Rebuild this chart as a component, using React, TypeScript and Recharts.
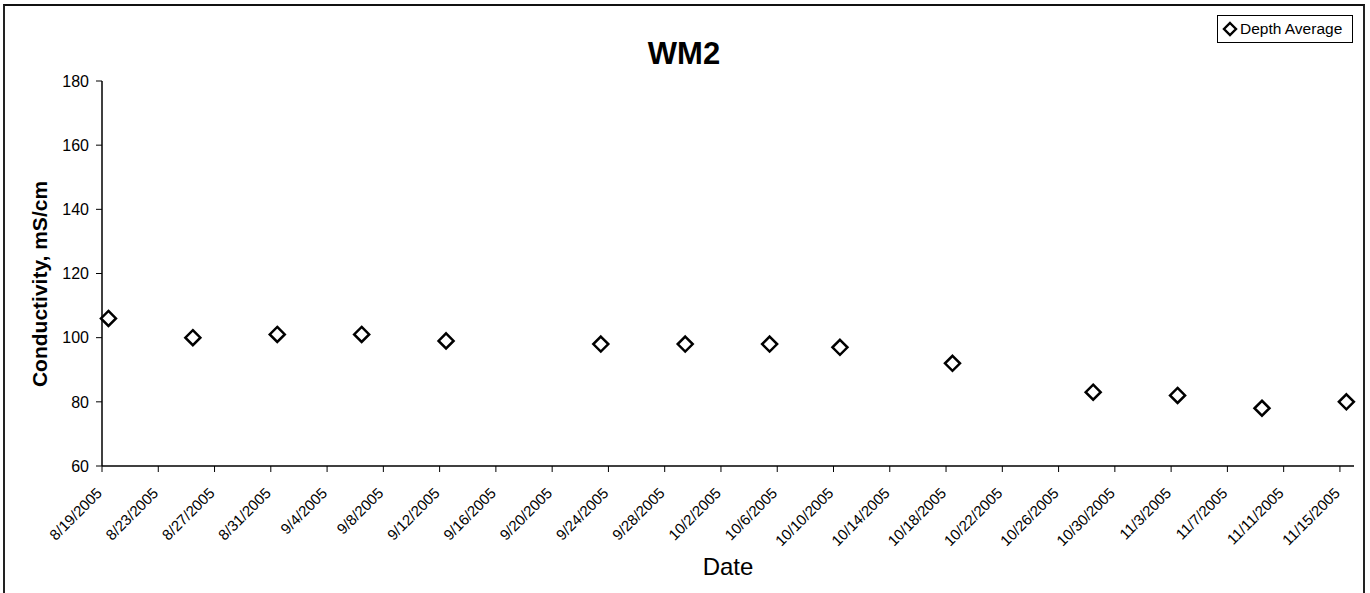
import React from 'react'
import { ScatterChart, Scatter, XAxis, YAxis } from 'recharts'

// WM2 conductivity, depth average per sampling date
const sampleTimes = [
  '2005-08-19T11:00', '2005-08-25T11:00', '2005-08-31T11:00', '2005-09-06T11:00',
  '2005-09-12T11:00', '2005-09-23T11:00', '2005-09-29T11:00', '2005-10-05T11:00',
  '2005-10-10T11:00', '2005-10-18T11:00', '2005-10-28T11:00', '2005-11-03T11:00',
  '2005-11-09T11:00', '2005-11-15T11:00',
]
const depthAverage = [106, 100, 101, 101, 99, 98, 98, 98, 97, 92, 83, 82, 78, 80]

const dateTicks = [
  '8/19/2005', '8/23/2005', '8/27/2005', '8/31/2005', '9/4/2005', '9/8/2005',
  '9/12/2005', '9/16/2005', '9/20/2005', '9/24/2005', '9/28/2005', '10/2/2005',
  '10/6/2005', '10/10/2005', '10/14/2005', '10/18/2005', '10/22/2005', '10/26/2005',
  '10/30/2005', '11/3/2005', '11/7/2005', '11/11/2005', '11/15/2005',
]
const xRange = ['8/19/2005', '11/16/2005']
const yTicks = [60, 80, 100, 120, 140, 160, 180]

const FONT = '"Liberation Sans", Arial, sans-serif'

const parseMDY = (s: string) => {
  const [m, d, y] = s.split('/').map(Number)
  return Date.UTC(y, m - 1, d)
}
const parseIso = (s: string) => new Date(s + ':00Z').getTime()

const points = sampleTimes.map((s, i) => ({ t: parseIso(s), v: depthAverage[i] }))
const tickTimes = dateTicks.map(parseMDY)

// 菱形マーカー
const Diamond = (props: any) => {
  const { cx, cy } = props
  const r = 7.5
  return (
    <polygon
      points={`${cx},${cy - r} ${cx + r},${cy} ${cx},${cy + r} ${cx - r},${cy}`}
      fill="#fff"
      stroke="#000"
      strokeWidth={2.5}
    />
  )
}

const DateTick = (props: any) => {
  const { x, y, index } = props
  const ty = y + 20
  return (
    <text
      x={x + 1}
      y={ty}
      transform={`rotate(-45 ${x + 1} ${ty})`}
      textAnchor="end"
      fontSize={15}
      fontFamily={FONT}
      fill="#000"
    >
      {dateTicks[index]}
    </text>
  )
}

export default function App() {
  return (
    <div style={{ position: 'absolute', left: 0, top: 0, width: 1370, height: 593, overflow: 'hidden', background: '#fff', fontFamily: FONT }}>
      {/* 枠 */}
      <div
        style={{
          position: 'absolute', left: 3, top: 4, width: 1358, height: 640,
          borderLeft: '2px solid #222', borderRight: '2px solid #222', borderTop: '2px solid #111',
        }}
      />
      <ScatterChart width={1370} height={593} margin={{ top: 81, right: 16, bottom: 0, left: 0 }}>
        <XAxis
          type="number"
          dataKey="t"
          domain={[parseMDY(xRange[0]), parseMDY(xRange[1])]}
          ticks={tickTimes}
          interval={0}
          height={127}
          tickSize={6}
          tick={<DateTick />}
          axisLine={{ stroke: '#000', strokeWidth: 1.5 }}
          tickLine={{ stroke: '#000' }}
        />
        <YAxis
          type="number"
          dataKey="v"
          domain={[60, 180]}
          ticks={yTicks}
          interval={0}
          width={102}
          tickSize={6}
          tickMargin={7}
          tick={{ fontSize: 16, fill: '#000', fontFamily: FONT }}
          axisLine={{ stroke: '#000', strokeWidth: 1.5 }}
          tickLine={{ stroke: '#000' }}
        />
        <Scatter data={points} shape={<Diamond />} isAnimationActive={false} />
      </ScatterChart>

      {/* タイトル */}
      <div style={{ position: 'absolute', left: 584, top: 38, width: 200, textAlign: 'center', fontSize: 31, lineHeight: '31px', fontWeight: 'bold' }}>
        WM2
      </div>
      {/* 軸タイトル */}
      <div style={{ position: 'absolute', left: 628, top: 555, width: 200, textAlign: 'center', fontSize: 24, lineHeight: '24px' }}>
        Date
      </div>
      <div
        style={{
          position: 'absolute', left: 40 - 150, top: 284 - 12, width: 300, height: 24,
          textAlign: 'center', fontSize: 21, lineHeight: '24px', fontWeight: 'bold',
          transform: 'rotate(-90deg)', whiteSpace: 'nowrap',
        }}
      >
        Conductivity, mS/cm
      </div>
      {/* 凡例 */}
      <div
        style={{
          position: 'absolute', left: 1217, top: 15, width: 134, height: 26,
          border: '1px solid #000', display: 'flex', alignItems: 'center', fontSize: 15.5,
        }}
      >
        <svg width={18} height={16} style={{ marginLeft: 4 }}>
          <polygon points="8,2 14,8 8,14 2,8" fill="#fff" stroke="#000" strokeWidth={2.4} />
        </svg>
        <span>Depth Average</span>
      </div>
    </div>
  )
}
